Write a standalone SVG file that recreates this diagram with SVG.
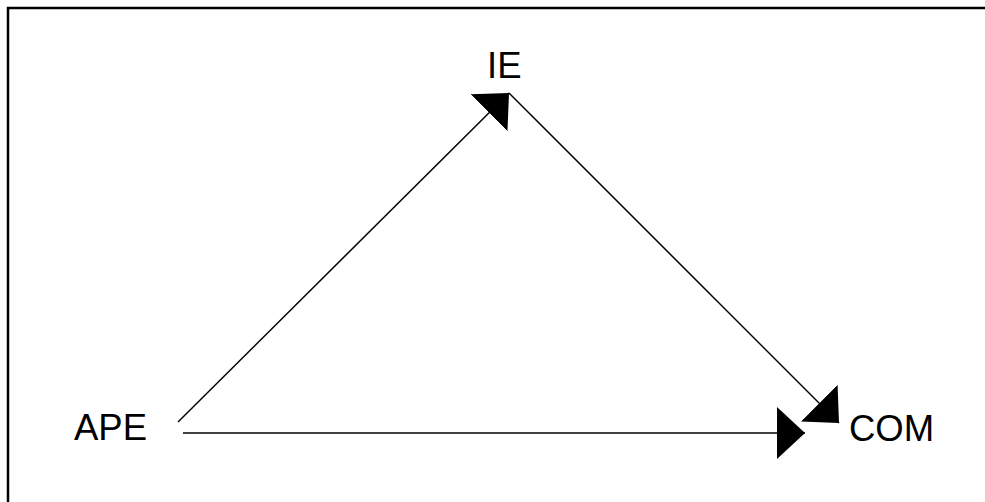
<svg xmlns="http://www.w3.org/2000/svg" width="985" height="502" viewBox="0 0 985 502">
<style>
.lbl{font-family:"Liberation Sans",Arial,sans-serif;font-size:36.5px;fill:#000}
.edge{stroke:#000;stroke-width:1.5;fill:none}
</style>
<defs>
<marker id="ah" viewBox="0 0 28 52" refX="28" refY="26" markerWidth="28" markerHeight="52" markerUnits="userSpaceOnUse" orient="auto">
<path d="M0,0 L28,26 L0,52 Z" fill="#000"/>
</marker>
</defs>
<rect width="985" height="502" fill="#fff"/>
<path d="M8,502 L8,8 L985,8" fill="none" stroke="#000" stroke-width="2.5"/>
<g id="connectors">
<line class="edge" x1="178" y1="422" x2="509" y2="93" marker-end="url(#ah)"/>
<line class="edge" x1="509" y1="93" x2="839" y2="423" marker-end="url(#ah)"/>
<line class="edge" x1="183" y1="433" x2="805" y2="433" marker-end="url(#ah)"/>
</g>
<g id="IE"><text class="lbl" x="487" y="78">IE</text></g>
<g id="APE"><text class="lbl" x="74" y="440">APE</text></g>
<g id="COM"><text class="lbl" x="849" y="441">COM</text></g>
</svg>
